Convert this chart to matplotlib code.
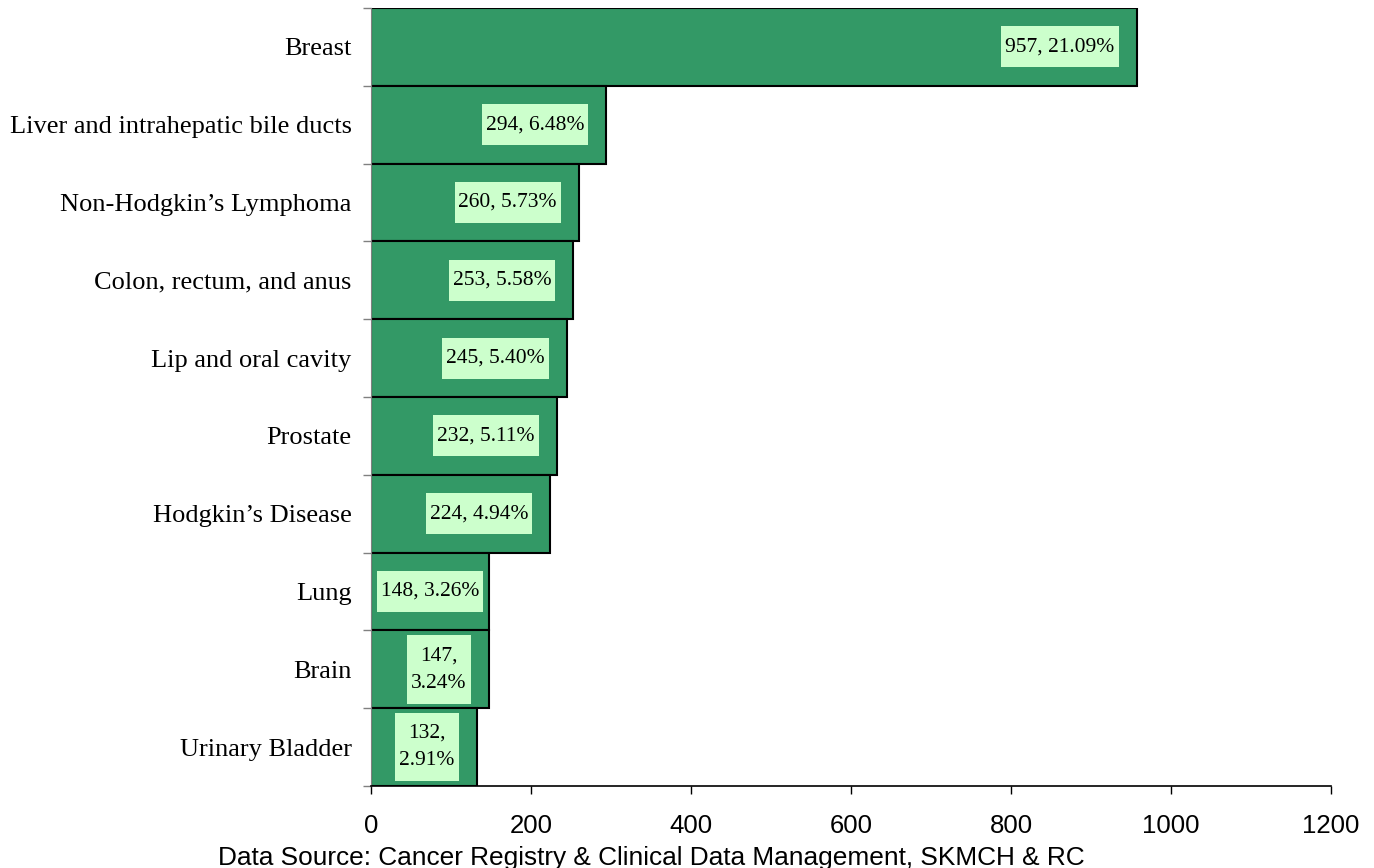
import numpy as np
import matplotlib
matplotlib.use("Agg")
import matplotlib.pyplot as plt
from matplotlib.patches import Rectangle
from matplotlib.transforms import IdentityTransform

categories = ["Breast", "Liver and intrahepatic bile ducts", "Non-Hodgkin\u2019s Lymphoma",
              "Colon, rectum, and anus", "Lip and oral cavity", "Prostate",
              "Hodgkin\u2019s Disease", "Lung", "Brain", "Urinary Bladder"]
values = [957, 294, 260, 253, 245, 232, 224, 148, 147, 132]
labels = ["957, 21.09%", "294, 6.48%", "260, 5.73%", "253, 5.58%", "245, 5.40%",
          "232, 5.11%", "224, 4.94%", "148, 3.26%", "147,\n3.24%", "132,\n2.91%"]
xticks = [0, 200, 400, 600, 800, 1000, 1200]
source = "Data Source: Cancer Registry & Clinical Data Management, SKMCH & RC"

W, H = 1374, 868
fig = plt.figure(figsize=(W / 100, H / 100), dpi=100)
ax = fig.add_axes([371 / W, 1 - 786 / H, 960 / W, 778 / H])

n = len(values)
y = np.arange(n)
ax.barh(y, values, height=1.0, color="#339966", edgecolor="black", linewidth=1.5, zorder=2)
ax.set_xlim(0, 1200)
ax.set_ylim(n - 0.5, -0.5)

for s in ["top", "right"]:
    ax.spines[s].set_visible(False)
ax.spines["left"].set_color("#808080")
ax.spines["bottom"].set_linewidth(1.2)

ax.set_xticks(xticks)
ax.set_xticklabels([str(t) for t in xticks], fontfamily="Liberation Sans", fontsize=18.5)
ax.tick_params(axis="x", direction="out", length=6, width=1, pad=14)

ax.set_yticks(np.arange(-0.5, n, 1.0))
ax.set_yticklabels([])
ax.tick_params(axis="y", which="major", direction="out", length=6, width=1, color="#808080")
ax.set_yticks(y, minor=True)
ax.set_yticklabels(categories, minor=True, fontfamily="Liberation Serif", fontsize=19)
ax.tick_params(axis="y", which="minor", length=0, pad=14)

fig.canvas.draw()
renderer = fig.canvas.get_renderer()
ax_left = ax.transData.transform((0, 0))[0]
padx, pady = 4, 11
for i, (v, lab) in enumerate(zip(values, labels)):
    t = ax.annotate(lab, xy=(v, i), xycoords="data", xytext=(-22, 0),
                    textcoords="offset pixels", ha="right", va="center",
                    multialignment="center", fontfamily="Liberation Serif",
                    fontsize=15.5, linespacing=1.6, zorder=5)
    bb = t.get_window_extent(renderer)
    if bb.x0 - padx < ax_left + 6:
        shift = (ax_left + 6 + padx) - bb.x0
        t.xyann = (-22 + shift, 0)
        bb = t.get_window_extent(renderer)
    rect = Rectangle((bb.x0 - padx, bb.y0 - pady), bb.width + 2 * padx, bb.height + 2 * pady,
                     transform=IdentityTransform(), facecolor="#CCFFCC", edgecolor="none", zorder=4)
    ax.add_artist(rect)

fig.text(651.5 / W, 1 - 865 / H, source, ha="center", va="baseline",
         fontfamily="Liberation Sans", fontsize=18.9)

fig.savefig("out.png", dpi=100)
